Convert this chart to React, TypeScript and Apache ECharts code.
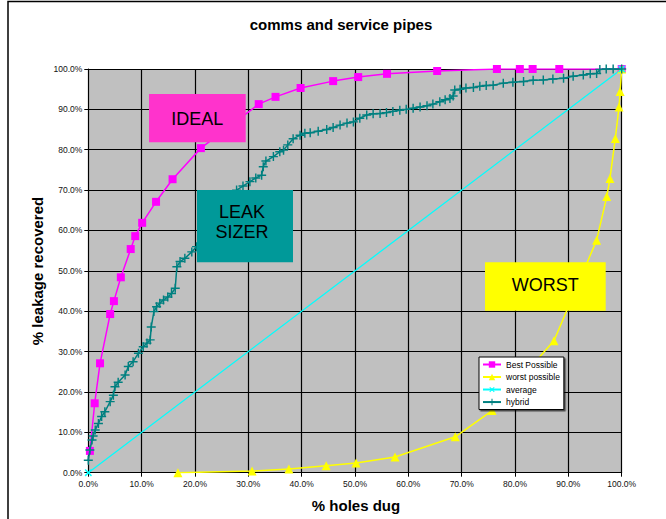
import React, { useEffect, useRef } from "react";
import * as echarts from "echarts";

const xTickValues = [0, 10, 20, 30, 40, 50, 60, 70, 80, 90, 100];
const yTickValues = [0, 10, 20, 30, 40, 50, 60, 70, 80, 90, 100];

const seriesNames = ["Best Possible", "worst possible", "average", "hybrid"];

const bestPossible: number[][] = [
  [0.3, 5.4], [1.2, 17.2], [2.2, 27.1], [4.1, 39.3], [4.8, 42.5], [6.1, 48.4],
  [7.95, 55.4], [8.8, 58.6], [10.1, 61.9], [12.7, 67.1], [15.8, 72.7], [21.1, 80.4],
  [31.95, 91.3], [35.1, 93.1], [39.8, 95.3], [45.9, 97.0], [50.6, 98.0], [56.0, 98.8],
  [65.4, 99.5], [76.6, 100], [80.9, 100], [83.3, 100], [88.3, 100], [100, 100],
];

const worstPossible: number[][] = [
  [16.8, 0], [30.7, 0.4], [37.6, 0.9], [44.6, 1.7], [50.2, 2.4], [57.5, 3.9],
  [68.8, 8.9], [75.7, 15.4], [87.3, 32.7], [95.3, 57.6], [97.2, 68.4], [97.8, 72.9],
  [98.8, 82.8], [99.5, 90.6], [99.7, 94.4], [100, 100],
];

const average: number[][] = [[0, 0], [100, 100]];

const hybrid: number[][] = [
  [0, 3.1], [0.3, 5.6], [0.7, 8.1], [0.9, 9.1], [1.3, 10.6], [1.9, 12.2], [2.5, 13.9],
  [3.1, 15.1], [4.1, 17.6], [4.7, 19.2], [5.0, 21.3], [5.6, 22.4], [6.9, 24.2],
  [7.5, 26.3], [8.4, 27.5], [9.4, 29.6], [10.3, 31.2], [11.0, 32.1], [11.6, 32.9],
  [11.8, 36.1], [12.3, 39.9], [12.8, 41.1], [13.4, 42.0], [14.1, 42.8], [14.9, 43.5],
  [15.6, 44.4], [16.3, 45.7], [16.6, 51.0], [17.2, 52.3], [18.1, 53.1], [19.4, 54.7],
  [20.3, 56.0], [22.3, 58.6], [24.3, 62.8], [26.2, 66.3], [27.8, 70.0], [29.0, 71.0],
  [30.3, 72.1], [31.4, 73.0], [32.5, 73.7], [32.8, 75.8], [33.3, 77.2], [34.7, 78.3],
  [35.9, 79.5], [36.6, 79.9], [37.4, 81.2], [38.4, 82.7], [39.7, 83.6], [40.6, 84.1],
  [41.6, 84.2], [43.1, 84.6], [44.7, 85.0], [45.9, 85.5], [47.2, 86.1], [48.5, 86.6],
  [49.7, 86.9], [50.9, 87.8], [52.2, 88.6], [53.4, 88.9], [54.7, 89.0], [55.9, 89.2],
  [57.1, 89.5], [58.4, 89.8], [59.6, 90.0], [60.9, 90.3], [62.2, 90.6], [63.5, 90.9],
  [64.6, 91.3], [65.9, 91.9], [66.9, 92.4], [67.8, 92.7], [68.4, 93.3], [68.7, 94.8],
  [69.7, 95.0], [70.8, 95.3], [72.2, 95.4], [73.4, 95.7], [74.6, 95.9], [75.9, 96.0],
  [77.8, 96.5], [79.6, 96.7], [81.6, 96.9], [83.4, 97.2], [85.3, 97.3], [87.1, 97.5],
  [89.1, 97.7], [90.9, 98.2], [92.8, 98.5], [94.1, 98.8], [95.3, 98.9], [95.9, 99.9],
  [97.1, 100], [98.4, 100], [100, 100],
];

const FONT = "Arial, 'Liberation Sans', Helvetica, sans-serif";
const PLUS = "path://M4.2,0H5.8V4.2H10V5.8H5.8V10H4.2V5.8H0V4.2H4.2Z";

export default function App() {
  const ref = useRef<HTMLDivElement>(null);
  useEffect(() => {
    if (!ref.current) return;
    const chart = echarts.init(ref.current, undefined, { renderer: "svg" });
    const fmt = (v: number) => `${v.toFixed(1)}%`;
    const option: any = {
      animation: false,
      backgroundColor: "#ffffff",
      grid: { left: 88.3, top: 69, width: 533.4, height: 403.7, show: true, backgroundColor: "#c0c0c0", borderWidth: 0 },
      xAxis: {
        type: "value", min: xTickValues[0], max: xTickValues[xTickValues.length - 1], interval: 10,
        axisLine: { show: true, lineStyle: { color: "#000", width: 1 } },
        axisTick: { show: true, length: 4, lineStyle: { color: "#000" } },
        axisLabel: { formatter: fmt, fontSize: 8.5, color: "#111", fontFamily: FONT, margin: 7 },
        splitLine: { show: true, lineStyle: { color: "#000", width: 1.2 } },
      },
      yAxis: {
        type: "value", min: yTickValues[0], max: yTickValues[yTickValues.length - 1], interval: 10,
        axisLine: { show: true, lineStyle: { color: "#000", width: 1 } },
        axisTick: { show: true, length: 4, lineStyle: { color: "#000" } },
        axisLabel: { formatter: fmt, fontSize: 8.5, color: "#111", fontFamily: FONT, margin: 6 },
        splitLine: { show: true, lineStyle: { color: "#000", width: 1.2 } },
      },
      legend: {
        orient: "vertical", left: 479, top: 357,
        data: seriesNames,
        backgroundColor: "#ffffff", borderColor: "#000", borderWidth: 1,
        padding: [3, 4, 3, 3], itemWidth: 18, itemHeight: 8, itemGap: 3.5,
        textStyle: { fontSize: 8.5, color: "#000", fontFamily: FONT, lineHeight: 8.5 },
        shadowColor: "rgba(0,0,0,0.6)", shadowOffsetX: 1.5, shadowOffsetY: 1.5, shadowBlur: 0,
      },
      series: [
        {
          name: seriesNames[0], type: "line", data: bestPossible, symbol: "rect", symbolSize: 8,
          lineStyle: { color: "#ff00ff", width: 1.5 }, itemStyle: { color: "#ff00ff" }, z: 2,
        },
        {
          name: seriesNames[1], type: "line", data: worstPossible, symbol: "triangle", symbolSize: 9,
          lineStyle: { color: "#ffff00", width: 1.5 }, itemStyle: { color: "#ffff00" }, z: 2,
        },
        {
          name: seriesNames[2], type: "line", data: average, symbol: PLUS, symbolRotate: 45, symbolSize: 9,
          lineStyle: { color: "#00ffff", width: 1.3 }, itemStyle: { color: "#00ffff" }, z: 2,
        },
        {
          name: seriesNames[3], type: "line", data: hybrid, symbol: PLUS, symbolSize: 9,
          lineStyle: { color: "#008080", width: 1.5 }, itemStyle: { color: "#008080" }, z: 3,
        },
      ],
      graphic: [
        { type: "rect", z: 0, silent: true, shape: { x: 8, y: 1.5, width: 700, height: 600 }, style: { fill: "none", stroke: "#000", lineWidth: 1.5 } },
        { type: "text", z: 50, x: 341, y: 24, style: { text: "comms and service pipes", font: `bold 15px ${FONT}`, fill: "#000", textAlign: "center", textVerticalAlign: "middle", align: "center", verticalAlign: "middle" } },
        { type: "text", z: 50, x: 356, y: 505, style: { text: "% holes dug", font: `bold 15px ${FONT}`, fill: "#000", textAlign: "center", textVerticalAlign: "middle", align: "center", verticalAlign: "middle" } },
        { type: "text", z: 50, x: 37, y: 271, rotation: Math.PI / 2, style: { text: "% leakage recovered", font: `bold 15px ${FONT}`, fill: "#000", textAlign: "center", textVerticalAlign: "middle", align: "center", verticalAlign: "middle" } },
        { type: "rect", z: 50, shape: { x: 149, y: 94, width: 96.7, height: 48.3 }, style: { fill: "#ff33cc" } },
        { type: "text", z: 51, x: 197.3, y: 118.5, style: { text: "IDEAL", font: `18px ${FONT}`, fill: "#000", textAlign: "center", textVerticalAlign: "middle", align: "center", verticalAlign: "middle" } },
        { type: "rect", z: 50, shape: { x: 197, y: 190, width: 96, height: 72.3 }, style: { fill: "#009999" } },
        { type: "text", z: 51, x: 242, y: 222, style: { text: "LEAK\nSIZER", font: `18px ${FONT}`, lineHeight: 20, fill: "#000", textAlign: "center", textVerticalAlign: "middle", align: "center", verticalAlign: "middle" } },
        { type: "rect", z: 50, shape: { x: 485, y: 262.3, width: 120.7, height: 48.4 }, style: { fill: "#ffff00" } },
        { type: "text", z: 51, x: 545.3, y: 284.5, style: { text: "WORST", font: `18px ${FONT}`, fill: "#000", textAlign: "center", textVerticalAlign: "middle", align: "center", verticalAlign: "middle" } },
      ],
    };
    chart.setOption(option);
    return () => chart.dispose();
  }, []);
  return <div ref={ref} style={{ position: "absolute", left: 0, top: 0, width: 666, height: 519 }} />;
}
